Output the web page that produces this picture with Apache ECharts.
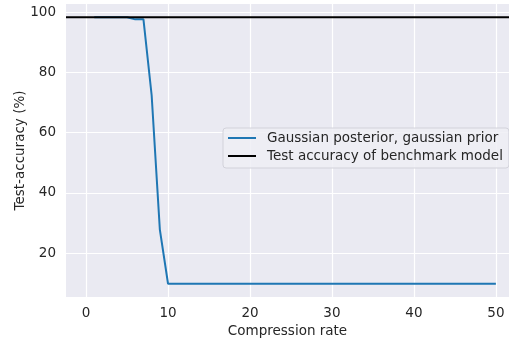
<!DOCTYPE html>
<html><head><meta charset="utf-8">
<script src="https://cdn.jsdelivr.net/npm/echarts@6/dist/echarts.min.js"></script>
<style>html,body{margin:0;padding:0;background:#fff}#c{width:509px;height:340px}</style>
</head><body><div id="c"></div>
<script>
const compression = [1,2,3,4,5,6,7,8,9,10,11,12,13,14,15,16,17,18,19,20,21,22,23,24,25,26,27,28,29,30,31,32,33,34,35,36,37,38,39,40,41,42,43,44,45,46,47,48,49,50];
const accuracy = [98.3,98.3,98.3,98.3,98.3,97.6,97.6,72.4,27.8,9.8,9.8,9.8,9.8,9.8,9.8,9.8,9.8,9.8,9.8,9.8,9.8,9.8,9.8,9.8,9.8,9.8,9.8,9.8,9.8,9.8,9.8,9.8,9.8,9.8,9.8,9.8,9.8,9.8,9.8,9.8,9.8,9.8,9.8,9.8,9.8,9.8,9.8,9.8,9.8,9.8];
const benchmarkAccuracy = 98.3;
const xTicks = [0,10,20,30,40,50];
const yTicks = [20,40,60,80,100];
const xRange = [-2.45, 51.6];
const yRange = [5.4, 102.7];
const seriesNames = ['Gaussian posterior, gaussian prior','Test accuracy of benchmark model'];

const font = 'DejaVu Sans';
const fs = 13.5;
const legendIcon = 'path://M0,0 M34,12 M0,5 H28 V7 H0 Z';
const chart = echarts.init(document.getElementById('c'), null, {renderer:'canvas'});
chart.setOption({
  animation:false,
  backgroundColor:'#ffffff',
  grid:{left:66,right:0,top:4,bottom:43,show:true,backgroundColor:'#eaeaf2',borderWidth:0,
    containLabel:false,outerBoundsMode:'none'},
  xAxis:{type:'value',min:xRange[0],max:xRange[1],
    name:'Compression rate',nameLocation:'middle',nameGap:27,nameMoveOverlap:false,
    nameTextStyle:{fontFamily:font,fontSize:fs,color:'#262626'},
    axisLine:{show:false},
    axisTick:{show:false,customValues:xTicks},
    axisLabel:{customValues:xTicks,fontFamily:font,fontSize:fs,color:'#262626',margin:9},
    splitLine:{show:true,lineStyle:{color:'#ffffff',width:1.2}}},
  yAxis:{type:'value',min:yRange[0],max:yRange[1],
    name:'Test-accuracy (%)',nameLocation:'middle',nameGap:39,nameMoveOverlap:false,
    nameTextStyle:{fontFamily:font,fontSize:fs,color:'#262626'},
    axisLine:{show:false},
    axisTick:{show:false,customValues:yTicks},
    axisLabel:{customValues:yTicks,fontFamily:font,fontSize:fs,color:'#262626',margin:10},
    splitLine:{show:true,lineStyle:{color:'#ffffff',width:1.2}}},
  legend:{left:223,top:128,orient:'vertical',
    backgroundColor:'rgba(238,238,245,0.85)',borderColor:'#d2d2da',borderWidth:1,borderRadius:3,
    padding:[3,6,5,5],itemGap:4,itemWidth:34,itemHeight:12,
    textStyle:{fontFamily:font,fontSize:fs,color:'#262626'},
    data:[{name:seriesNames[0],icon:legendIcon},{name:seriesNames[1],icon:legendIcon}]},
  series:[
    {name:seriesNames[0],type:'line',symbol:'none',z:2,
     lineStyle:{color:'#1f77b4',width:2},itemStyle:{color:'#1f77b4'},
     data:compression.map((x,i)=>[x,accuracy[i]])},
    {name:seriesNames[1],type:'line',symbol:'none',z:3,
     lineStyle:{color:'#000000',width:2},itemStyle:{color:'#000000'},
     data:[[xRange[0],benchmarkAccuracy],[xRange[1],benchmarkAccuracy]]}
  ]
});
</script></body></html>
